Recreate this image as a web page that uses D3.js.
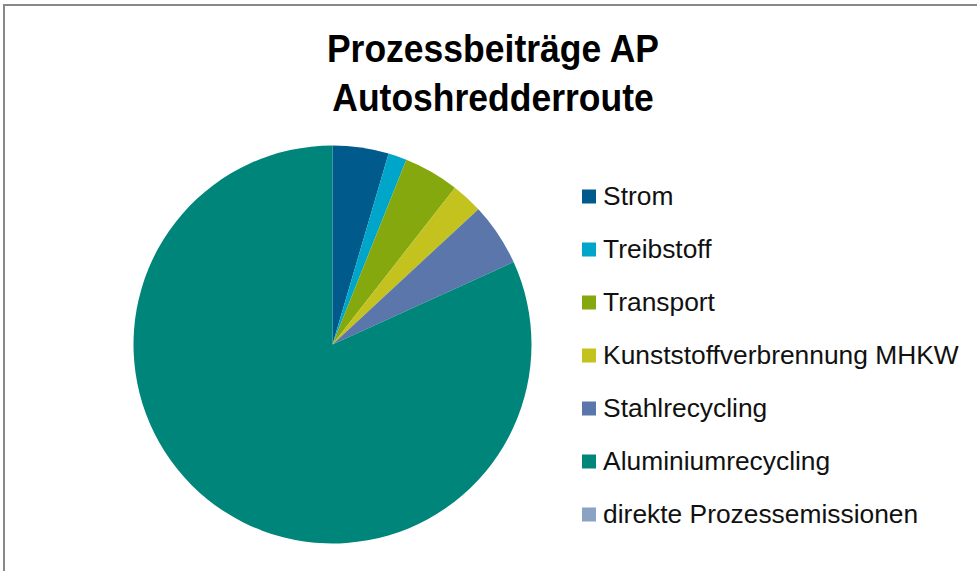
<!DOCTYPE html>
<html>
<head>
<meta charset="utf-8">
<script src="https://cdn.jsdelivr.net/npm/d3@7"></script>
<style>
  body { margin: 0; background: #fff; }
  svg { display: block; font-family: "Liberation Sans", Arial, sans-serif; }
</style>
</head>
<body>
<svg id="chart" width="977" height="571"></svg>
<script>
const titleLines = ["Prozessbeiträge AP", "Autoshredderroute"];

const categories = [
  "Strom",
  "Treibstoff",
  "Transport",
  "Kunststoffverbrennung MHKW",
  "Stahlrecycling",
  "Aluminiumrecycling",
  "direkte Prozessemissionen"
];
const values = [4.55, 1.5, 4.5, 2.55, 5.1, 81.8, 0];
const colors = ["#005a8c", "#00a6c9", "#86a80f", "#c4c21f", "#5a76aa", "#00857a", "#8aa2c4"];

const svg = d3.select("#chart");

// chart frame
svg.append("rect")
  .attr("x", 4).attr("y", 5)
  .attr("width", 990).attr("height", 600)
  .attr("fill", "none")
  .attr("stroke", "#888")
  .attr("stroke-width", 2);

// title
svg.append("g")
  .selectAll("text")
  .data(titleLines)
  .enter()
  .append("text")
  .attr("transform", (d, i) => `translate(493,${62 + i * 49}) scale(1,1.11)`)
  .attr("text-anchor", "middle")
  .attr("font-weight", "bold")
  .attr("font-size", 35.5)
  .attr("fill", "#000")
  .text(d => d);

// pie
let radius = 199;
let pie = d3.pie().sort(null).value(d => d.value);
let arc = d3.arc().innerRadius(0).outerRadius(radius);
let data = categories.map((c, i) => ({ name: c, value: values[i], color: colors[i] }));

svg.append("g")
  .attr("transform", "translate(332.5,344.5)")
  .selectAll("path")
  .data(pie(data))
  .enter()
  .append("path")
  .attr("d", arc)
  .attr("fill", d => d.data.color);

// legend
let rowY = d3.scalePoint().domain(categories).range([196.5, 514.5]);

let legend = svg.append("g")
  .selectAll("g")
  .data(data)
  .enter()
  .append("g")
  .attr("transform", d => `translate(582,${rowY(d.name)})`);

legend.append("rect")
  .attr("x", 0).attr("y", -7)
  .attr("width", 14).attr("height", 14)
  .attr("fill", d => d.color);

legend.append("text")
  .attr("x", 20)
  .attr("y", 8)
  .attr("font-size", 25)
  .attr("fill", "#111")
  .attr("transform", "scale(1.055,1)")
  .text(d => d.name);
</script>
</body>
</html>
